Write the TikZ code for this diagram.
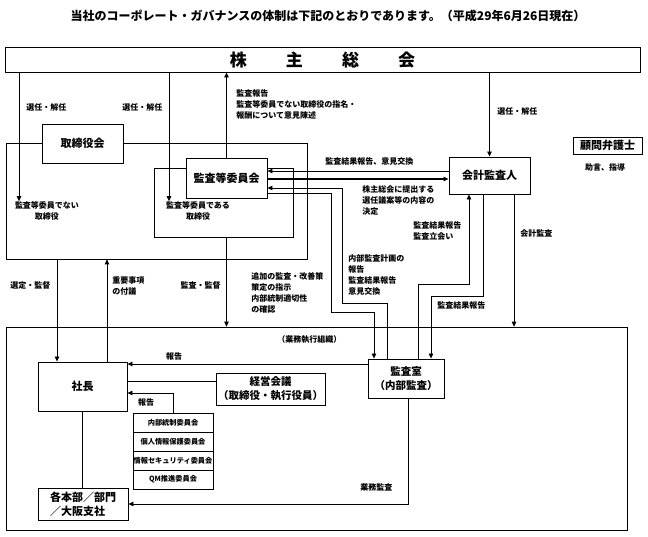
\documentclass[tikz,border=0pt]{standalone}
\usepackage{fontspec}
\setmainfont{Noto Sans CJK JP}
\usetikzlibrary{arrows.meta}

\tikzset{
  box/.style={draw, line width=0.9pt, fill=white, inner sep=0pt, align=center,
    font=\bfseries\fontsize{11}{14}\selectfont},
  frame/.style={draw, line width=0.7pt, inner sep=0pt},
  comm/.style={draw, line width=0.7pt, fill=white, inner sep=0pt,
    minimum width=80pt, minimum height=19pt, font=\bfseries\fontsize{7.2}{8}\selectfont},
  lbl/.style={inner sep=0pt, align=left, font=\bfseries\fontsize{8}{11}\selectfont},
  arr/.style={-{Triangle[length=5pt,width=4.5pt]}}
}

\begin{document}
\begin{tikzpicture}[x=1pt, y=-1pt, line width=0.8pt]
  \useasboundingbox (0,0) rectangle (648,536);

  % rails for the connectors
  \coordinate (xa) at (19,0);   \coordinate (xb) at (169,0);
  \coordinate (xc) at (57,0);   \coordinate (xd) at (107,0);
  \coordinate (xe) at (387,0);  \coordinate (xf) at (342,0);
  \coordinate (xg) at (331,0);  \coordinate (xh) at (374,0);
  \coordinate (xi) at (418,0);  \coordinate (xj) at (469,0);
  \coordinate (xk) at (483,0);  \coordinate (xl) at (431,0);
  \coordinate (xm) at (514,0);  \coordinate (xn) at (408,0);
  \coordinate (ya) at (0,171);  \coordinate (yb) at (0,179);
  \coordinate (yc) at (0,188);  \coordinate (yd) at (0,193);
  \coordinate (yf) at (0,303);  \coordinate (yg) at (0,312);
  \coordinate (yh) at (0,284);  \coordinate (yi) at (0,296);
  \coordinate (yj) at (0,364);  \coordinate (yk) at (0,381);
  \coordinate (yl) at (0,393);

  \node[font=\bfseries\fontsize{12}{14}\selectfont] (title) at (328,16)
    {当社のコーポレート・ガバナンスの体制は下記のとおりであります。（平成29年6月26日現在）};

  \node[box, minimum width=635pt, minimum height=25pt, font=\bfseries\fontsize{17}{19}\selectfont] (agm)
    at (322.5,59.5) {株\hspace{2.3em}主\hspace{2.3em}総\hspace{2.3em}会};

  % board of directors
  \node[frame, minimum width=301pt, minimum height=116pt] (bfr) at (156.5,201) {};
  \node[frame, minimum width=139pt, minimum height=69pt] (acarea) at (223.5,202.5) {};
  \node[box, minimum width=81pt, minimum height=39pt] (board) at (82.5,143.5) {取締役会};
  \node[box, minimum width=81pt, minimum height=40pt] (acb) at (226.5,178) {監査等委員会};
  \node[lbl, align=center] (nonexec) at (47,211) {監査等委員でない\\取締役};
  \node[lbl, align=center] (acdir) at (198,211) {監査等委員である\\取締役};

  \node[box, minimum width=81pt, minimum height=37pt] (aud) at (489.5,175.5) {会計監査人};
  \node[box, minimum width=69pt, minimum height=17pt] (lawyer) at (607.5,145.5) {顧問弁護士};
  \node[lbl] (advice) at (605,167) {助言、指導};

  % executive organisation
  \node[frame, minimum width=621pt, minimum height=203pt] (exec) at (316.5,428.5) {};
  \node[lbl, anchor=west] (execlbl) at (277,340) {（業務執行組織）};
  \node[box, minimum width=76pt, minimum height=39pt, font=\bfseries\fontsize{10.5}{14}\selectfont] (iad)
    at (406,378.5) {監査室\\（内部監査）};
  \node[box, minimum width=89pt, minimum height=49pt] (pres) at (82.5,386.5) {社長};
  \node[box, minimum width=109pt, minimum height=32pt, font=\bfseries\fontsize{10.5}{14}\selectfont] (mgmt)
    at (270.5,389) {経営会議\\（取締役・執行役員）};
  \foreach \t [count=\i] in {内部統制委員会, 個人情報保護委員会, 情報セキュリティ委員会, QM推進委員会}
    \node[comm] (com\i) at (173,403.5+19*\i) {\t};
  \node[box, minimum width=90pt, minimum height=32pt, align=left] (div) at (83,504) {各本部／部門\\／大阪支社};

  % shareholders meeting
  \draw[arr] (agm.south -| xa) -- (nonexec.north -| xa);
  \node[lbl, anchor=west] (l1) at (26,107) {選任・解任};
  \draw[arr] (agm.south -| xb) -- (acdir.north -| xb);
  \node[lbl, anchor=west] (l2) at (122,107) {選任・解任};
  \draw[arr] (acb.north) -- (acb.north |- agm.south);
  \node[lbl, anchor=north west] (l3) at (236,89) {監査報告\\監査等委員でない取締役の指名・\\報酬について意見陳述};
  \draw[arr] (agm.south -| aud.north) -- (aud.north);
  \node[lbl, anchor=west] (l4) at (497,111) {選任・解任};

  % board and executive
  \draw[arr] (bfr.south -| xc) -- (pres.north -| xc);
  \node[lbl, anchor=west] (l5) at (10,285) {選定・監督};
  \draw[arr] (pres.north -| xd) -- (bfr.south -| xd);
  \node[lbl, anchor=west] (l6) at (112,286) {重要事項\\の付議};
  \draw[arr] (acarea.south -| acb.south) -- (exec.north -| acb.south);
  \node[lbl, anchor=east] (l7) at (221,285) {監査・監督};

  % audit committee and accounting auditor
  \draw[arr] (aud.west |- ya) -- (acb.east |- ya);
  \node[lbl, anchor=west] (l8) at (325,161) {監査結果報告、意見交換};
  \draw[arr, line width=1.5pt] (acb.east |- yb) -- (aud.west |- yb);
  \node[lbl, anchor=north west] (l9) at (362,185) {株主総会に提出する\\選任議案等の内容の\\決定};

  % audit office
  \draw[arr] (iad.north -| xe) -- (xe |- yf) -| (xf |- yc) -- (acb.east |- yc);
  \node[lbl, anchor=north west] (l10) at (348,254) {内部監査計画の\\報告\\監査結果報告\\意見交換};
  \draw[arr] (acb.east |- yd) -| (xg |- yg) -| (iad.north -| xh);
  \node[lbl, anchor=north west] (l11) at (251,272) {追加の監査・改善策\\策定の指示\\内部統制適切性\\の確認};
  \draw[arr] (iad.north -| xi) |- (xj |- yh) -- (aud.south -| xj);
  \node[lbl, anchor=north west] (l12) at (413,221) {監査結果報告\\監査立会い};
  \draw[arr] (aud.south -| xk) |- (xl |- yi) -- (iad.north -| xl);
  \node[lbl, anchor=west] (l13) at (437,305) {監査結果報告};
  \draw[arr] (aud.south -| xm) -- (exec.north -| xm);
  \node[lbl, anchor=west] (l14) at (520,233) {会計監査};

  % inside the executive box
  \draw[arr] (iad.west |- yj) -- (pres.east |- yj);
  \node[lbl] (l15) at (174,356) {報告};
  \draw (pres.east |- yk) -- (mgmt.west |- yk);
  \draw[arr] (com1.north) |- (pres.east |- yl);
  \node[lbl] (l16) at (146,402) {報告};
  \draw (pres.south) -- (div.north -| pres.south);
  \draw[arr] (iad.south -| xn) |- (div.east);
  \node[lbl, anchor=west] (l17) at (360,487) {業務監査};
\end{tikzpicture}
\end{document}
